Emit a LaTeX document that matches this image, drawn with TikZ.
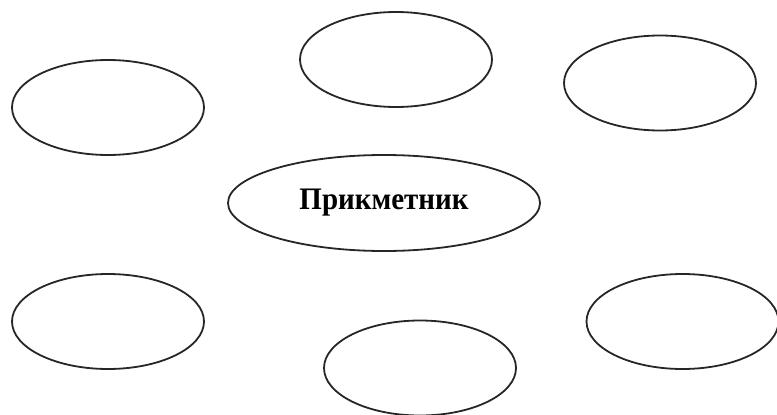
\documentclass[tikz,border=0pt]{standalone}
\usepackage{fontspec}
\setmainfont{Liberation Serif}
\usepackage{tikz}
\usetikzlibrary{shapes.geometric}

\begin{document}
\begin{tikzpicture}[
  x=1pt, y=-1pt,
  bubble/.style={ellipse, draw=black!85, line width=1.8pt, inner sep=0pt, minimum width=192pt, minimum height=95pt},
  core/.style={bubble, minimum width=312pt, minimum height=96pt, font=\bfseries\fontsize{29}{32}\selectfont}
]
  \useasboundingbox (0,0) rectangle (777,415);

  \node[core] (adj) at (384,203) {\raisebox{1pt}{\scalebox{1}[1.08]{Прикметник}}};

  \node[bubble] (topleft) at (108,107.5) {};
  \node[bubble] (topmid) at (396,59.5) {};
  \node[bubble] (topright) at (660,83) {};
  \node[bubble] (botleft) at (108,321.5) {};
  \node[bubble] (botmid) at (420,368) {};
  \node[bubble] (botright) at (682.5,321.5) {};
\end{tikzpicture}
\end{document}
